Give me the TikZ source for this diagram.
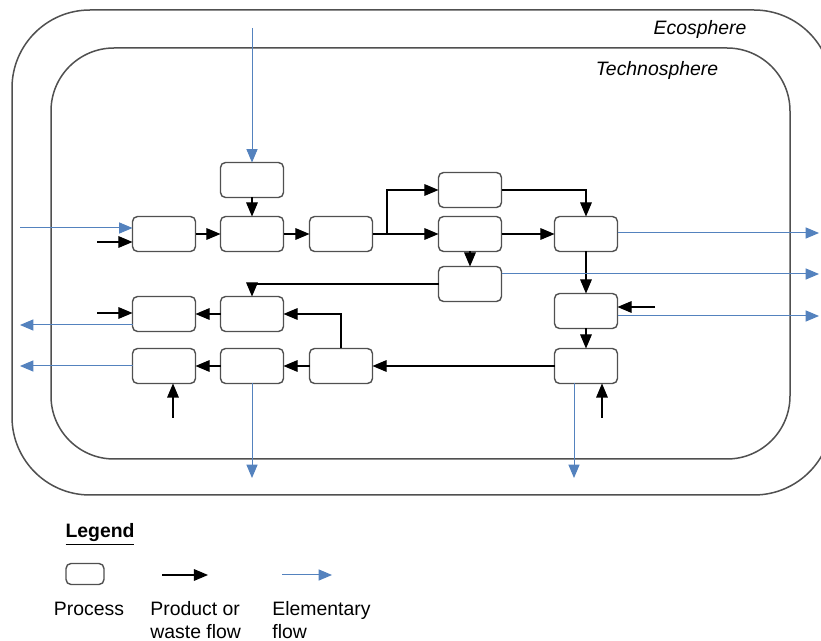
\documentclass[tikz,border=0pt]{standalone}
\usepackage{fontspec}
\setmainfont{Liberation Sans}
\usepackage{tikz}
\usetikzlibrary{shapes,arrows}
\definecolor{lcaBlue}{RGB}{84,130,190}
\definecolor{lcaGrey}{RGB}{80,80,80}

\begin{document}
\begin{tikzpicture}[x=0.5pt, y=-0.5pt, font=\fontsize{9.7}{11.5}\selectfont]%
  \tikzset{product arrow/.style={draw,-triangle 45,line width=0.6pt,black}}
  \tikzset{elementary arrow/.style={draw,-triangle 45,line width=0.5pt,lcaBlue}}
  \tikzset{sphere/.style={draw=lcaGrey,line width=0.75pt}}
  \tikzstyle{process}=[draw=lcaGrey, line width=0.7pt, rectangle, rounded corners=2.5pt, minimum width=31.5pt, minimum height=17.5pt, inner sep=0pt, outer sep=0pt]

  \useasboundingbox (0,0) rectangle (821,641);
  \clip (0,0) rectangle (821,641);

  % the two spheres
  \draw[sphere, rounded corners=39pt] (12,10) rectangle (832,495);
  \draw[sphere, rounded corners=31.5pt] (51,48) rectangle (790,459);
  \node (eco) at (700,29) {\itshape Ecosphere};
  \node (techno) at (657,70) {\itshape Technosphere};

  % processes
  \node[process] (P0) at (252,180) {};
  \node[process] (P1) at (164,234) {};
  \node[process] (P2) at (252,234) {};
  \node[process] (P3) at (341,234) {};
  \node[process] (P4) at (470,190) {};
  \node[process] (P5) at (470,234) {};
  \node[process] (P6) at (470,284) {};
  \node[process] (P7) at (586,234) {};
  \node[process] (P8) at (586,311) {};
  \node[process] (P9) at (586,366) {};
  \node[process] (P10) at (164,314) {};
  \node[process] (P11) at (252,314) {};
  \node[process] (P12) at (164,366) {};
  \node[process] (P13) at (252,366) {};
  \node[process] (P14) at (341,366) {};

  % product and waste flows
  \coordinate (split) at (387,234);
  \path[product arrow] (P0) -- (P2);
  \path[product arrow] (P1) -- (P2);
  \path[product arrow] (P2) -- (P3);
  \path[product arrow] (P3) -- (P5);
  \path[product arrow] (split) |- (P4);
  \path[product arrow] (P4) -| (P7);
  \path[product arrow] (P5) -- (P7);
  \path[product arrow] (P5) -- (P6);
  \path[product arrow] (P6) -| (P11);
  \path[product arrow] (P7) -- (P8);
  \path[product arrow] (P8) -- (P9);
  \path[product arrow] (P9) -- (P14);
  \path[product arrow] (P14) -- (P13);
  \path[product arrow] (P13) -- (P12);
  \path[product arrow] (P14) |- (P11);
  \path[product arrow] (P11) -- (P10);

  \coordinate (inA) at (97,242);
  \coordinate (inH) at (655,307);
  \coordinate (inI) at (602,418);
  \coordinate (inJ) at (97,313);
  \coordinate (inL) at (173,418);
  \path[product arrow] (inA) -- (P1.west |- inA);
  \path[product arrow] (inH) -- (P8.east |- inH);
  \path[product arrow] (inI) -- (P9.south -| inI);
  \path[product arrow] (inJ) -- (P10.west |- inJ);
  \path[product arrow] (inL) -- (P12.south -| inL);

  % elementary flows
  \coordinate (srcTop) at (252,28);
  \coordinate (srcA) at (20,228);
  \coordinate (outG) at (819,233);
  \coordinate (outF) at (819,274);
  \coordinate (outH) at (819,316);
  \coordinate (outI) at (574,478);
  \coordinate (outJ) at (20,325);
  \coordinate (outL) at (20,366);
  \coordinate (outM) at (252,478);
  \path[elementary arrow] (srcTop) -- (P0);
  \path[elementary arrow] (srcA) -- (P1.west |- srcA);
  \path[elementary arrow] (P7.east |- outG) -- (outG);
  \path[elementary arrow] (P6.east |- outF) -- (outF);
  \path[elementary arrow] (P8.east |- outH) -- (outH);
  \path[elementary arrow] (P9.south -| outI) -- (outI);
  \path[elementary arrow] (P10.west |- outJ) -- (outJ);
  \path[elementary arrow] (P12) -- (outL);
  \path[elementary arrow] (P13) -- (outM);

  % legend
  \node (legend) at (100,535) {\underline{\textbf{Legend}}};
  \node[process, minimum width=19pt, minimum height=10.5pt] (legProc) at (85,574) {};
  \coordinate (legPa) at (162,575);
  \coordinate (legPb) at (208,575);
  \coordinate (legEa) at (282,575);
  \coordinate (legEb) at (332,575);
  \path[product arrow] (legPa) -- (legPb);
  \path[elementary arrow] (legEa) -- (legEb);
  \node (txtProc) at (89,609) {Process};
  \node[anchor=west, align=left, inner sep=0pt] (txtProd) at (150,620.5) {Product or\\waste flow};
  \node[anchor=west, align=left, inner sep=0pt] (txtElem) at (272,620.5) {Elementary\\flow};
\end{tikzpicture}
\end{document}
